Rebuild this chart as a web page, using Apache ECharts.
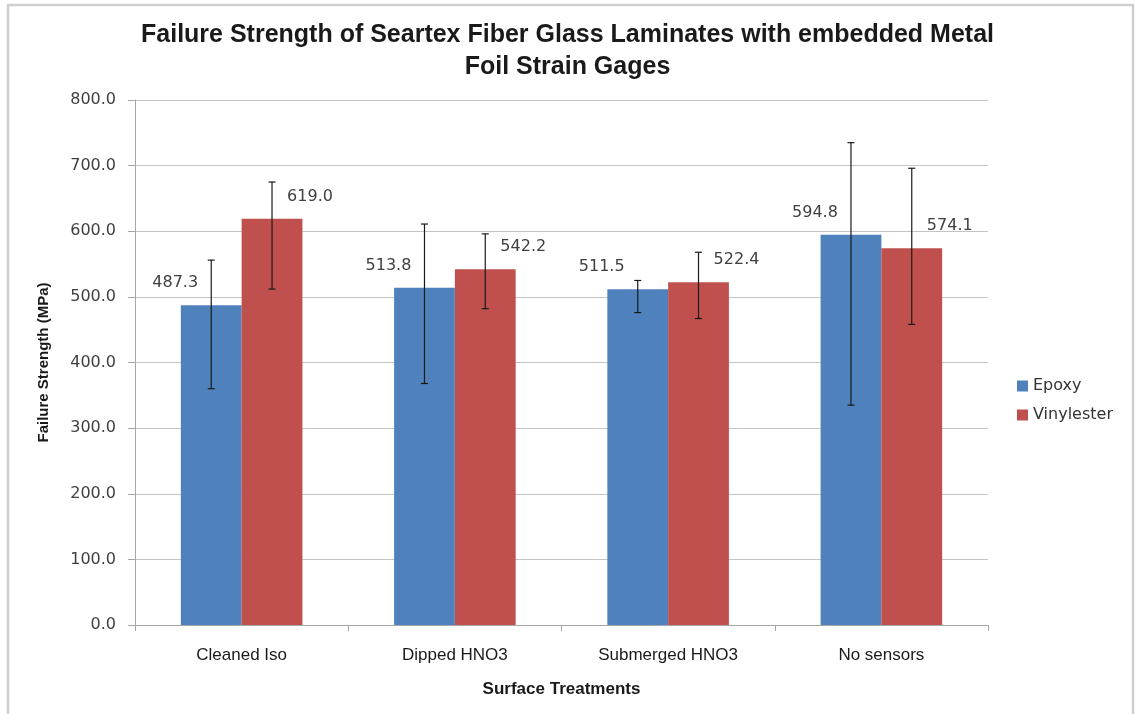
<!DOCTYPE html>
<html>
<head>
<meta charset="utf-8">
<script src="https://cdn.jsdelivr.net/npm/echarts@6/dist/echarts.min.js"></script>
<style>html,body{margin:0;padding:0;background:#fff;}#c{width:1135px;height:714px;}</style>
</head>
<body>
<div id="c"></div>
<script>
const categories = ['Cleaned Iso', 'Dipped HNO3', 'Submerged HNO3', 'No sensors'];
const epoxy = [487.3, 513.8, 511.5, 594.8];
const vinylester = [619.0, 542.2, 522.4, 574.1];
const epoxyLow = [360, 368, 476, 335];
const epoxyHigh = [556, 611, 525, 735];
const vinylLow = [512, 482, 467, 458];
const vinylHigh = [675, 596, 568, 696];
const yTicks = [0, 100, 200, 300, 400, 500, 600, 700, 800];

const CAT_GAP = 0.43;
const chart = echarts.init(document.getElementById('c'), null, {renderer: 'canvas'});

function errorSeries(name, low, high, side) {
  return {
    type: 'custom',
    name: name,
    z: 10,
    silent: true,
    data: low.map((l, i) => [i, l, high[i]]),
    renderItem: function (params, api) {
      const idx = api.value(0);
      const band = api.size([1, 0])[0];
      const bw = band * (1 - CAT_GAP) / 2;
      const cx = api.coord([idx, 0])[0] + side * bw / 2;
      const yl = api.coord([idx, api.value(1)])[1];
      const yh = api.coord([idx, api.value(2)])[1];
      const cap = 3.5;
      const style = {stroke: '#1a1a1a', lineWidth: 1.2};
      return {
        type: 'group',
        children: [
          {type: 'line', shape: {x1: cx, y1: yl, x2: cx, y2: yh}, style: style},
          {type: 'line', shape: {x1: cx - cap, y1: yh, x2: cx + cap, y2: yh}, style: style},
          {type: 'line', shape: {x1: cx - cap, y1: yl, x2: cx + cap, y2: yl}, style: style}
        ]
      };
    }
  };
}

const labelBase = {
  show: true,
  position: 'top',
  fontFamily: 'DejaVu Sans',
  fontSize: 16,
  color: '#404040',
  formatter: p => p.value.toFixed(1)
};

chart.setOption({
  animation: false,
  backgroundColor: '#fff',
  title: {
    text: 'Failure Strength of Seartex Fiber Glass Laminates with embedded Metal\nFoil Strain Gages',
    left: 'center',
    top: 14,
    textStyle: {fontFamily: 'Liberation Sans', fontSize: 25, fontWeight: 'bold', color: '#1a1a1a', lineHeight: 32}
  },
  legend: {
    data: ['Epoxy', 'Vinylester'],
    orient: 'vertical',
    left: 1012,
    top: 373,
    itemWidth: 11,
    itemHeight: 11,
    itemGap: 13,
    icon: 'rect',
    textStyle: {fontFamily: 'DejaVu Sans', fontSize: 16, color: '#333'}
  },
  graphic: [{
    type: 'rect',
    shape: {x: 8, y: 5, width: 1125, height: 740},
    style: {fill: 'none', stroke: '#cfcfcf', lineWidth: 2.5},
    silent: true
  }],
  grid: {left: 135, right: 147, top: 100, bottom: 89},
  xAxis: {
    type: 'category',
    data: categories,
    name: 'Surface Treatments',
    nameLocation: 'middle',
    nameGap: 56,
    nameTextStyle: {fontFamily: 'Liberation Sans', fontSize: 17, fontWeight: 'bold', color: '#1a1a1a'},
    axisLine: {lineStyle: {color: '#a6a6a6', width: 1}},
    axisTick: {show: true, length: 6, lineStyle: {color: '#a6a6a6'}},
    axisLabel: {margin: 22, fontFamily: 'Liberation Sans', fontSize: 17, color: '#1a1a1a'}
  },
  yAxis: {
    type: 'value',
    min: 0,
    max: 800,
    interval: 100,
    name: 'Failure Strength (MPa)',
    nameLocation: 'middle',
    nameRotate: 90,
    nameGap: 84,
    nameTextStyle: {fontFamily: 'Liberation Sans', fontSize: 15, fontWeight: 'bold', color: '#1a1a1a'},
    axisLine: {show: true, lineStyle: {color: '#a6a6a6', width: 1}},
    axisTick: {show: true, length: 7, lineStyle: {color: '#a6a6a6'}},
    splitLine: {lineStyle: {color: '#c4c4c4', width: 1.2}},
    axisLabel: {
      margin: 19,
      fontFamily: 'DejaVu Sans',
      fontSize: 16,
      color: '#404040',
      formatter: v => yTicks.includes(v) ? v.toFixed(1) : ''
    }
  },
  series: [
    {
      name: 'Epoxy', type: 'bar', data: epoxy,
      barGap: '0%', barCategoryGap: (CAT_GAP * 100) + '%',
      itemStyle: {color: '#4f81bd'},
      label: Object.assign({}, labelBase, {offset: [-36, -9]})
    },
    {
      name: 'Vinylester', type: 'bar', data: vinylester,
      barGap: '0%', barCategoryGap: (CAT_GAP * 100) + '%',
      itemStyle: {color: '#c0504d'},
      label: Object.assign({}, labelBase, {offset: [38, -9]})
    },
    errorSeries('EpoxyErr', epoxyLow, epoxyHigh, -1),
    errorSeries('VinylErr', vinylLow, vinylHigh, 1)
  ]
});
</script>
</body>
</html>
